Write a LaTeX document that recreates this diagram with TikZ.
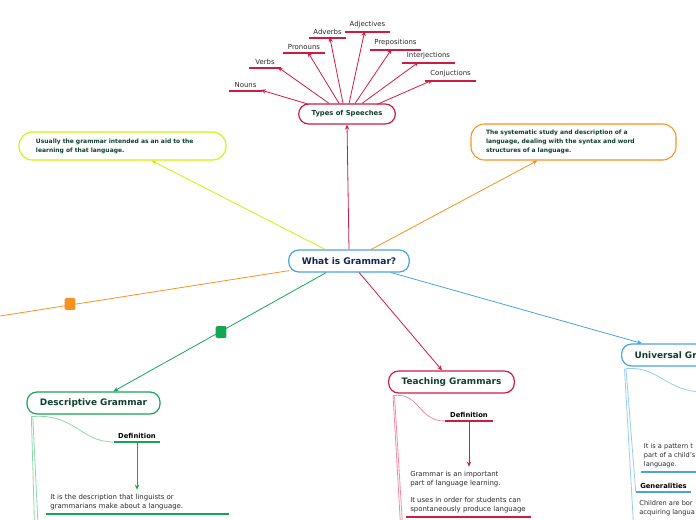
\documentclass[tikz,border=0pt]{standalone}
\usepackage{fontspec}
\setmainfont{DejaVu Sans}
\usetikzlibrary{arrows.meta,calc}
\definecolor{cblue}{RGB}{74,163,222}
\definecolor{lblue}{RGB}{150,205,240}
\definecolor{ccrim}{RGB}{206,27,67}
\definecolor{lcrim}{RGB}{240,140,165}
\definecolor{cgreen}{RGB}{22,165,85}
\definecolor{lgreen}{RGB}{140,215,170}
\definecolor{corange}{RGB}{246,146,30}
\definecolor{cyellow}{RGB}{212,240,0}
\definecolor{tgreen}{RGB}{16,64,48}
\definecolor{tnavy}{RGB}{22,36,84}
\definecolor{tgrey}{RGB}{40,40,40}
\tikzset{
  topic/.style={draw, line width=0.9pt, rounded corners=7.5pt, fill=white, inner xsep=9.75pt, inner ysep=0pt,
    minimum height=16.5pt, font=\fontsize{6.7}{8}\selectfont\bfseries, text=tgreen},
  note/.style={draw, line width=0.8pt, rounded corners=10pt, fill=white, align=left, inner ysep=0pt,
    font=\fontsize{4.5}{6.75}\selectfont\bfseries, text=tgreen},
  conn/.style={line width=0.6pt, -{Stealth[length=3.8pt,width=3.2pt]}},
  leaf/.style={inner xsep=0pt, inner ysep=2.5pt, anchor=south, font=\fontsize{5.2}{6}\selectfont, text=tgrey},
  defn/.style={inner xsep=0pt, inner ysep=2.5pt, anchor=south, font=\fontsize{5.1}{6}\selectfont\bfseries, text=black},
  body/.style={inner xsep=3pt, inner ysep=3pt, align=left, font=\fontsize{5.2}{6.75}\selectfont, text=tgrey},
  edgebody/.style={body, inner xsep=2pt, font=\fontsize{4.95}{6.75}\selectfont},
  uline/.style={line width=0.9pt},
  subline/.style={line width=0.6pt},
  sq/.style={minimum width=8pt, minimum height=9pt, inner sep=0pt, rounded corners=1pt}
}
\newcommand\leafnode[5]{%
  \node[leaf, minimum width={(#3-#2)*0.75pt}] (#1) at ({(#2+#3)/2},#4) {#5};
  \draw[uline, ccrim] (#1.south west) -- (#1.south east);}
\begin{document}
\begin{tikzpicture}[x=0.75pt,y=-0.75pt]
\useasboundingbox (0,0) rectangle (696,520);
\clip (0,0) rectangle (696,520);

% central and first level nodes
\node[topic, text=tnavy, draw=cblue, font=\fontsize{6.8}{8}\selectfont\bfseries, minimum height=16.5pt] (central) at (349,261) {What is Grammar?};
\node[topic, draw=ccrim, minimum height=15pt, font=\fontsize{5.1}{6}\selectfont\bfseries] (types) at (347,114) {Types of Speeches};
\node[note, draw=cyellow, minimum width=155.25pt, minimum height=21pt, text width=129.75pt, inner xsep=12.75pt] (lnote) at (122.5,146)
  {Usually the grammar intended as an aid to the\\learning of that language.};
\node[note, draw=corange, minimum width=153.75pt, minimum height=27pt, text width=131.25pt, inner xsep=11.25pt] (rnote) at (573.5,142)
  {The systematic study and description of a\\language, dealing with the syntax and word\\structures of a language.};
\node[topic, draw=cgreen] (desc) at (93.5,403) {Descriptive Grammar};
\node[topic, draw=ccrim] (teach) at (451.5,382) {Teaching Grammars};
\node[topic, draw=cblue, anchor=west, text width=100pt, align=left] (univ) at (621,355) {Universal Gr};

% connectors from central
\draw[conn, ccrim] (central.north) -- (types.south);
\draw[conn, cyellow] ($(central.north west)+(37,0)$) -- ($(lnote.south west)+(133,0)$);
\draw[conn, corange] ($(central.north west)+(83,0)$) -- ($(rnote.south west)+(67,0)$);
\coordinate (oend) at (-10,317.6);
\draw[line width=0.6pt, corange] ($(central.south west)+(1,-2)$) -- (oend);
\node[sq, fill=corange] (osq) at (70,304) {};
\draw[conn, cgreen] ($(central.south west)+(38,0)$) -- ($(desc.north west)+(87,0)$);
\node[sq, fill=cgreen] (gsq) at (221,332) {};
\draw[conn, ccrim] ($(central.south west)+(71,0)$) -- ($(teach.north west)+(54,0)$);
\draw[conn, cblue] ($(central.south west)+(103,0)$) -- ($(univ.north west)+(21,0)$);

% types of speeches leaves
\leafnode{nouns}{229}{262}{91}{Nouns}
\leafnode{verbs}{249}{281}{68}{Verbs}
\leafnode{pronouns}{283}{325}{53}{Pronouns}
\leafnode{adverbs}{309}{346}{38}{Adverbs}
\leafnode{adjectives}{345}{390}{32}{Adjectives}
\leafnode{prepositions}{370}{421}{50}{Prepositions}
\leafnode{interjections}{402}{455}{63}{Interjections}
\leafnode{conjuctions}{425}{476}{81}{Conjuctions}
\draw[conn, ccrim] ($(types.north west)+(11,1)$) -- ($(nouns.south west)+(32,-1)$);
\draw[conn, ccrim] ($(types.north west)+(31,0)$) -- ($(verbs.south west)+(29,-1)$);
\draw[conn, ccrim] ($(types.north west)+(41,0)$) -- ($(pronouns.south west)+(25,-1)$);
\draw[conn, ccrim] ($(types.north west)+(45,0)$) -- ($(adverbs.south west)+(21,-1)$);
\draw[conn, ccrim] ($(types.north west)+(51,0)$) -- ($(adjectives.south west)+(20,-1)$);
\draw[conn, ccrim] ($(types.north west)+(57,0)$) -- ($(prepositions.south west)+(22,-1)$);
\draw[conn, ccrim] ($(types.north west)+(64,0)$) -- ($(interjections.south west)+(17,-1)$);
\draw[conn, ccrim] ($(types.north west)+(79,1)$) -- ($(conjuctions.south west)+(8,-1)$);

% descriptive grammar branch
\node[defn, minimum width=34.5pt] (ddef) at (137,442) {Definition};
\draw[uline, cgreen] (ddef.south west) -- (ddef.south east);
\node[body, anchor=south west] (dtext) at (46,514) {It is the description that linguists or\\grammarians make about a language.};
\draw[uline, cgreen] (dtext.south west) -- ++(183,0);
\draw[subline, lgreen] ($(desc.south west)+(5,2)$) .. controls (75,413) and (80,442) .. (ddef.south west);
\draw[conn, cgreen] (ddef.south) -- (ddef.south |- dtext.north);
\coordinate (dv1) at (34.5,525);
\coordinate (dv2) at (38,525);
\draw[subline, lgreen] ($(desc.south west)+(5,2)$) -- (dv1);
\draw[subline, lgreen] ($(desc.south west)+(6.5,3)$) -- (dv2);

% teaching grammars branch
\node[defn, minimum width=36pt] (tdef) at (469,421) {Definition};
\draw[uline, ccrim] (tdef.south west) -- (tdef.south east);
\node[body, anchor=south west] (ttext) at (406,517) {Grammar is an important\\part of language learning.\\[6pt]It uses in order for students can\\spontaneously produce language};
\draw[uline, ccrim] (ttext.south west) -- ++(125,0);
\draw[subline, lcrim] ($(teach.south west)+(5,2)$) .. controls (420,392) and (418,421) .. (tdef.south west);
\draw[conn, ccrim] (tdef.south) -- (tdef.south |- ttext.north);
\coordinate (tv1) at (400.5,525);
\coordinate (tv2) at (402.5,525);
\draw[subline, lcrim] ($(teach.south west)+(5,2)$) -- (tv1);
\draw[subline, lcrim] ($(teach.south west)+(6.5,3)$) -- (tv2);

% universal grammar branch
\coordinate (uc) at (705,392);
\draw[subline, lblue] ($(univ.south west)+(5,2)$) .. controls (660,366) and (665,392) .. (uc);
\node[edgebody, anchor=south west] (utext) at (641,472) {It is a pattern t\\part of a child's\\language.};
\draw[uline, cblue] (utext.south west) -- ++(80,0);
\node[defn, minimum width=41.25pt] (gen) at (663.5,492) {Generalities};
\draw[uline, cblue] (gen.south west) -- (gen.south east);
\node[edgebody, anchor=north west] (ctext) at (636.5,496) {Children are bor\\acquiring langua};
\coordinate (uv1) at (633.5,525);
\draw[subline, lblue] ($(univ.south west)+(5,2)$) -- (gen.south west);
\draw[subline, lblue] ($(univ.south west)+(3.5,2)$) -- (uv1);
\end{tikzpicture}
\end{document}
